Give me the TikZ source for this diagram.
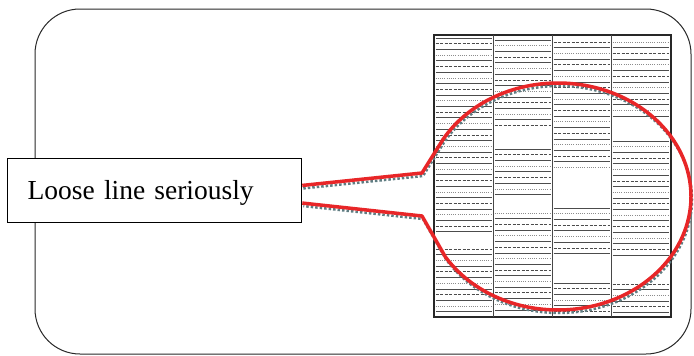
\documentclass[tikz,border=0pt]{standalone}
\usepackage{fontspec}
\setmainfont{Liberation Serif}
\usetikzlibrary{calc}
\definecolor{calred}{RGB}{232,38,40}
\definecolor{shadowc}{RGB}{95,125,130}
\definecolor{framec}{RGB}{40,40,40}
\tikzset{
  frame/.style={draw=framec, line width=1pt, rounded corners=45pt},
  gridframe/.style={draw=framec, line width=1.3pt},
  divider/.style={draw=framec!85, line width=1pt},
  hsolid/.style={draw=black!70, line width=0.8pt},
  hdash/.style={draw=black!70, line width=0.7pt, dash pattern=on 3pt off 1.5pt},
  hdot/.style={draw=black!45, line width=0.7pt, dash pattern=on 1pt off 1.2pt},
  callout/.style={draw=calred, line width=3.5pt, line join=round},
  calloutshadow/.style={draw=shadowc, line width=2.5pt, dotted, line join=round},
  labelbox/.style={draw=black, fill=white, line width=1.3pt, minimum height=64pt,
    inner xsep=20pt, text width=254pt, align=left, text height=19pt, text depth=1pt,
    font=\fontsize{27.5}{30}\selectfont}
}
\newcommand\hatchseg[5]{%
  \pgfmathtruncatemacro\nn{floor((#4-#3)/5.7)}%
  \foreach \k in {0,...,\nn}{%
    \pgfmathsetmacro\yy{#3+\k*5.7}%
    \pgfmathtruncatemacro\ss{mod(\k+#5,4)}%
    \ifcase\ss
      \draw[hsolid] (#1+1.5,\yy) -- (#2-1.5,\yy);
    \or
      \draw[hdash] (#1+1.5,\yy) -- (#2-1.5,\yy);
    \or
      \draw[hsolid] (#1+1.5,\yy) -- (#2-1.5,\yy);
    \or
      \draw[hdot] (#1+1.5,\yy) -- (#2-1.5,\yy);
    \fi
  }%
}
\begin{document}
\begin{tikzpicture}[x=1pt,y=-1pt]
\useasboundingbox (0,0) rectangle (694,356);
% outer rounded frame
\draw[frame] (35,9) rectangle (691,354);
% hatched grid
\hatchseg{434}{493}{38}{235}{0}
\hatchseg{434}{493}{249}{315}{1}
\hatchseg{493}{552}{40}{131}{2}
\hatchseg{493}{552}{149}{199}{0}
\hatchseg{493}{552}{213}{315}{3}
\hatchseg{552}{611}{42}{172}{1}
\hatchseg{552}{611}{208}{257}{2}
\hatchseg{552}{611}{283}{315}{0}
\hatchseg{611}{670}{42}{119}{3}
\hatchseg{611}{670}{141}{259}{2}
\hatchseg{611}{670}{284}{315}{1}
\draw[gridframe] (434,35) rectangle (671,317);
\draw[divider] (493,35) -- (493,317);
\draw[divider] (552,35) -- (552,317);
\draw[divider] (611,35) -- (611,317);
% label
\node[labelbox, anchor=north west] (tb) at (7,158) {Loose line seriously};
\coordinate (k1) at (422,173);
\coordinate (k2) at (422,216);
\coordinate (t1) at ($(tb.north east)!0.42!(tb.south east)$);
\coordinate (t2) at ($(tb.north east)!0.69!(tb.south east)$);
% callout shadow
\begin{scope}[transform canvas={xshift=1pt,yshift=-3pt}]
\draw[calloutshadow] (t1) -- (k1) -- plot[domain=210:508,samples=150] ({558+133*cos(\x)},{196.5+113.5*sin(\x)}) -- (k2) -- (t2);
\end{scope}
% callout
\draw[callout] (t1) -- (k1) -- plot[domain=210:508,samples=150] ({558+133*cos(\x)},{196.5+113.5*sin(\x)}) -- (k2) -- (t2);
\end{tikzpicture}
\end{document}
